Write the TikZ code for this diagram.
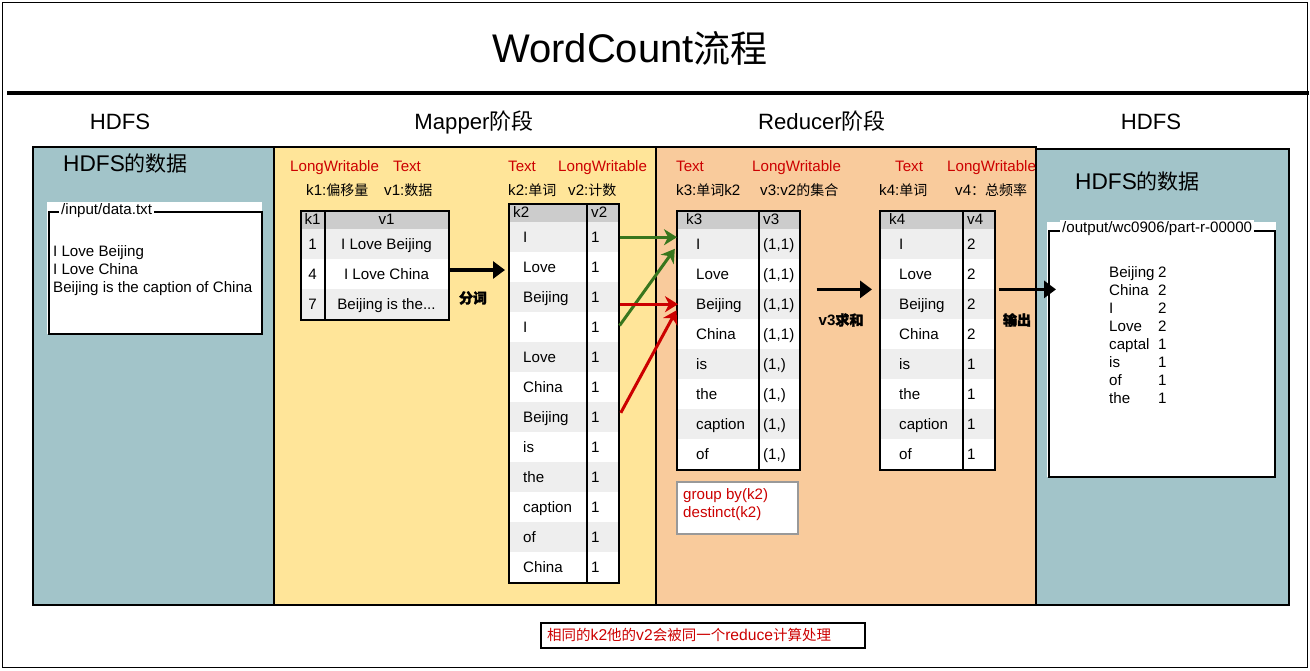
\documentclass[tikz,border=0pt]{standalone}
\usepackage{fontspec}
\setmainfont{Liberation Sans}[Scale=1.08]
\newfontfamily\cjk{Noto Sans CJK SC}
\newfontfamily\cjkb[FakeBold=2]{Noto Sans CJK SC}
\usetikzlibrary{arrows.meta,calc}
\definecolor{hdfsc}{HTML}{A2C4C9}
\definecolor{mapc}{HTML}{FFE599}
\definecolor{redcol}{HTML}{F9CB9C}
\definecolor{hdrgray}{HTML}{CCCCCC}
\definecolor{rowgray}{HTML}{EEEEEE}
\definecolor{txtred}{HTML}{CC0000}
\definecolor{arrgreen}{HTML}{38761D}
\definecolor{arrred}{HTML}{CC0000}
\newcommand\myfs[1]{\fontsize{#1}{#1}\selectfont}
\newcommand\bdots{Beijing is the...}
\newcommand\kvtable[9]{%
  \pgfmathsetmacro\tW{#4-#2}%
  \pgfmathsetmacro\tHt{#6+#8*30}%
  \fill[hdrgray] (#2,#5) rectangle (#4,#5+#6);
  \node[txt,anchor=base west] (k#1hk) at (#7-10,#5+#6/2+5) {k#1};
  \node[txt,anchor=base west] (k#1hv) at (#3+4,#5+#6/2+5) {v#1};
  \foreach \kk/\vv [count=\i] in {#9} {
    \pgfmathsetmacro\yy{#5+#6+(\i-1)*30}
    \ifodd\i\def\rf{rowgray}\else\def\rf{white}\fi
    \node[rowbox,fill=\rf,minimum width=\tW pt] (k#1r\i) at (#2,\yy) {};
    \node[txt,anchor=base west] (k#1k\i) at (#7,\yy+20) {\kk};
    \node[txt,anchor=base west] (k#1v\i) at (#3+4,\yy+20) {\vv};
  }
  \node[tframe,minimum width=\tW pt,minimum height=\tHt pt] (k#1tab) at (#2,#5) {};
  \draw[line width=1.5pt] (#3,#5) -- (#3,#5+\tHt);
}
\begin{document}
\begin{tikzpicture}[x=1pt,y=-1pt,
  txt/.style={inner sep=0pt,font=\myfs{14}},
  redtxt/.style={txt,text=txtred},
  panel/.style={draw=black,line width=1.5pt,inner sep=0pt,anchor=north west},
  tframe/.style={draw=black,line width=1.5pt,inner sep=0pt,anchor=north west},
  rowbox/.style={inner sep=0pt,anchor=north west,minimum height=30pt},
  section/.style={inner sep=0pt,font=\myfs{20.5},anchor=base},
  bigarrow/.style={line width=3.2pt,-{Triangle[length=12pt,width=17pt]}},
  garrow/.style={draw=arrgreen,line width=3pt,-{Stealth[length=13pt,width=16pt,inset=4pt]}},
  rarrow/.style={draw=arrred,line width=3pt,-{Stealth[length=13pt,width=16pt,inset=4pt]}},
  boldlbl/.style={inner sep=0pt,font=\myfs{14}\bfseries}]
\useasboundingbox (0,0) rectangle (1310,670);
\fill[white] (0,0) rectangle (1310,670);
% outer frame and title
\node[draw,line width=1.5pt,inner sep=0pt,anchor=north west,minimum width=1305pt,minimum height=665pt] (frame) at (1.5,1.5) {};
\node[inner sep=0pt,font=\myfs{37},anchor=base] (title) at (630,62) {WordCount{\cjk 流程}};
\draw[line width=4pt] (7,93) -- (1309,93);
% section titles
\node[section] (s1) at (120,129) {HDFS};
\node[section] (s2) at (474,129) {Mapper{\cjk\myfs{22}阶段}};
\node[section] (s3) at (822,129) {Reducer{\cjk\myfs{22}阶段}};
\node[section] (s4) at (1151,129) {HDFS};
% panels
\node[panel,fill=hdfsc,minimum width=241pt,minimum height=458pt] (hin) at (32,146) {};
\node[panel,fill=mapc,minimum width=382pt,minimum height=458pt] (map) at (273,146) {};
\node[panel,fill=redcol,minimum width=380pt,minimum height=458pt] (red) at (655,146) {};
\node[panel,fill=hdfsc,minimum width=253pt,minimum height=456pt] (hout) at (1035,148) {};
% left HDFS
\node[inner sep=0pt,font=\myfs{21},anchor=base west] (hinlbl) at (63,171) {HDFS{\cjk 的数据}};
\fill[white] (47,202) rectangle (262,334);
\node[draw,line width=1.5pt,inner sep=0pt,anchor=north west,minimum width=213pt,minimum height=122pt] (inbox) at (48,211) {};
\node[txt,fill=white,inner sep=2pt,anchor=west] (inname) at (59,211) {/input/data.txt};
\node[txt,anchor=base west] (in1) at (53,256) {I Love Beijing};
\node[txt,anchor=base west] (in2) at (53,274) {I Love China};
\node[txt,anchor=base west] (in3) at (53,292) {Beijing is the caption of China};
% mapper labels
\node[redtxt,anchor=base west] (m1) at (290,171) {LongWritable};
\node[redtxt,anchor=base west] (m2) at (393,171) {Text};
\node[txt,anchor=base west] (m3) at (306,195) {k1:{\cjk 偏移量}};
\node[txt,anchor=base west] (m4) at (384,195) {v1:{\cjk 数据}};
\node[redtxt,anchor=base west] (m5) at (508,171) {Text};
\node[redtxt,anchor=base west] (m6) at (558,171) {LongWritable};
\node[txt,anchor=base west] (m7) at (508,195) {k2:{\cjk 单词}};
\node[txt,anchor=base west] (m8) at (568,195) {v2:{\cjk 计数}};
% k1 table
\fill[hdrgray] (300,210) rectangle (448,229);
\node[txt,anchor=base] (k1hk) at (312.5,224) {k1};
\node[txt,anchor=base] (k1hv) at (386.5,224) {v1};
\foreach \kk/\vv [count=\i] in {1/I Love Beijing,4/I Love China,7/\bdots} {
  \pgfmathsetmacro\yy{229+(\i-1)*30}
  \ifodd\i\def\rf{rowgray}\else\def\rf{white}\fi
  \node[rowbox,fill=\rf,minimum width=148pt] (k1r\i) at (300,\yy) {};
  \node[txt,anchor=base] (k1k\i) at (312.5,\yy+20) {\kk};
  \node[txt,anchor=base] (k1v\i) at (386.5,\yy+20) {\vv};
}
\node[tframe,minimum width=148pt,minimum height=109pt] (k1tab) at (300,210) {};
\draw[line width=1.5pt] (325,210) -- (325,319);
% k2 table
\kvtable{2}{508}{587}{618}{203}{19}{523}{12}{I/1,Love/1,Beijing/1,I/1,Love/1,China/1,Beijing/1,is/1,the/1,caption/1,of/1,China/1}
% reducer labels
\node[redtxt,anchor=base west] (r1) at (676,171) {Text};
\node[redtxt,anchor=base west] (r2) at (752,171) {LongWritable};
\node[txt,anchor=base west] (r3) at (676,195) {k3:{\cjk 单词}k2};
\node[txt,anchor=base west] (r4) at (760,195) {v3:v2{\cjk 的集合}};
\node[redtxt,anchor=base west] (r5) at (895,171) {Text};
\node[redtxt,anchor=base west] (r6) at (947,171) {LongWritable};
\node[txt,anchor=base west] (r7) at (879,195) {k4:{\cjk 单词}};
\node[txt,anchor=base west] (r8) at (955,195) {v4{\cjk ：总频率}};
% k3, k4 tables
\kvtable{3}{676}{759}{799}{210}{19}{696}{8}{I/{(1,1)},Love/{(1,1)},Beijing/{(1,1)},China/{(1,1)},is/{(1,)},the/{(1,)},caption/{(1,)},of/{(1,)}}
\kvtable{4}{879}{963}{994}{210}{19}{899}{8}{I/2,Love/2,Beijing/2,China/2,is/1,the/1,caption/1,of/1}
% group box
\node[draw=black!40,line width=2pt,fill=white,inner sep=0pt,anchor=north west,minimum width=121pt,minimum height=52pt] (grp) at (676,481) {};
\node[redtxt,anchor=base west] (g1) at (683,499) {group by(k2)};
\node[redtxt,anchor=base west] (g2) at (683,517) {destinct(k2)};
% right HDFS
\node[inner sep=0pt,font=\myfs{21},anchor=base west] (houtlbl) at (1075,189) {HDFS{\cjk 的数据}};
\fill[white] (1047,222) rectangle (1276,477);
\node[draw,line width=1.5pt,inner sep=0pt,anchor=north west,minimum width=226pt,minimum height=246pt] (outbox) at (1048,230) {};
\node[txt,fill=white,inner sep=2pt,anchor=west] (outname) at (1060,229) {/output/wc0906/part-r-00000};
\foreach \ww/\nn [count=\i] in {Beijing/2,China/2,I/2,Love/2,captal/1,is/1,of/1,the/1} {
  \node[txt,anchor=base west] (ow\i) at (1109,277+\i*18-18) {\ww};
  \node[txt,anchor=base west] (on\i) at (1158,277+\i*18-18) {\nn};
}
% arrows
\coordinate (a1y) at (0,270);
\draw[bigarrow,shorten >=3pt] (k1tab.east |- a1y) -- (k2tab.west |- a1y);
\node[boldlbl] (fc) at (473,298) {\cjkb 分词};
\draw[garrow,shorten >=-1pt] (k2tab.east |- k2r1.east) -- (k3tab.west |- k2r1.east);
\draw[garrow,shorten <=2pt,shorten >=2pt] (k2r4.east) -- ([yshift=-3pt]k3r1.west);
\draw[rarrow,shorten >=-2pt] (k2tab.east |- k3r3.west) -- (k3r3.west);
\draw[rarrow,shorten <=5pt,shorten >=-1pt] (k2r7.east) -- ([yshift=-7pt]k3r3.west);
\draw[bigarrow,shorten <=16pt,shorten >=7pt] (k3tab.east |- k3r2.south) -- (k4tab.west |- k3r2.south);
\node[boldlbl] (sum) at (841,320) {v3{\cjkb 求和}};
\draw[bigarrow,shorten <=3pt,shorten >=-8pt] (k4tab.east |- k4r2.south) -- (outbox.west |- k4r2.south);
\node[boldlbl] (outl) at (1017,320) {\cjkb 输出};
% note
\node[draw,line width=1.5pt,fill=white,inner sep=0pt,anchor=north west,minimum width=324pt,minimum height=25pt] (note) at (540,622) {};
\node[redtxt,anchor=west,font=\myfs{14.5}] (notetxt) at (547,635) {{\cjk 相同的}k2{\cjk 他的}v2{\cjk 会被同一个}reduce{\cjk 计算处理}};
\end{tikzpicture}
\end{document}
